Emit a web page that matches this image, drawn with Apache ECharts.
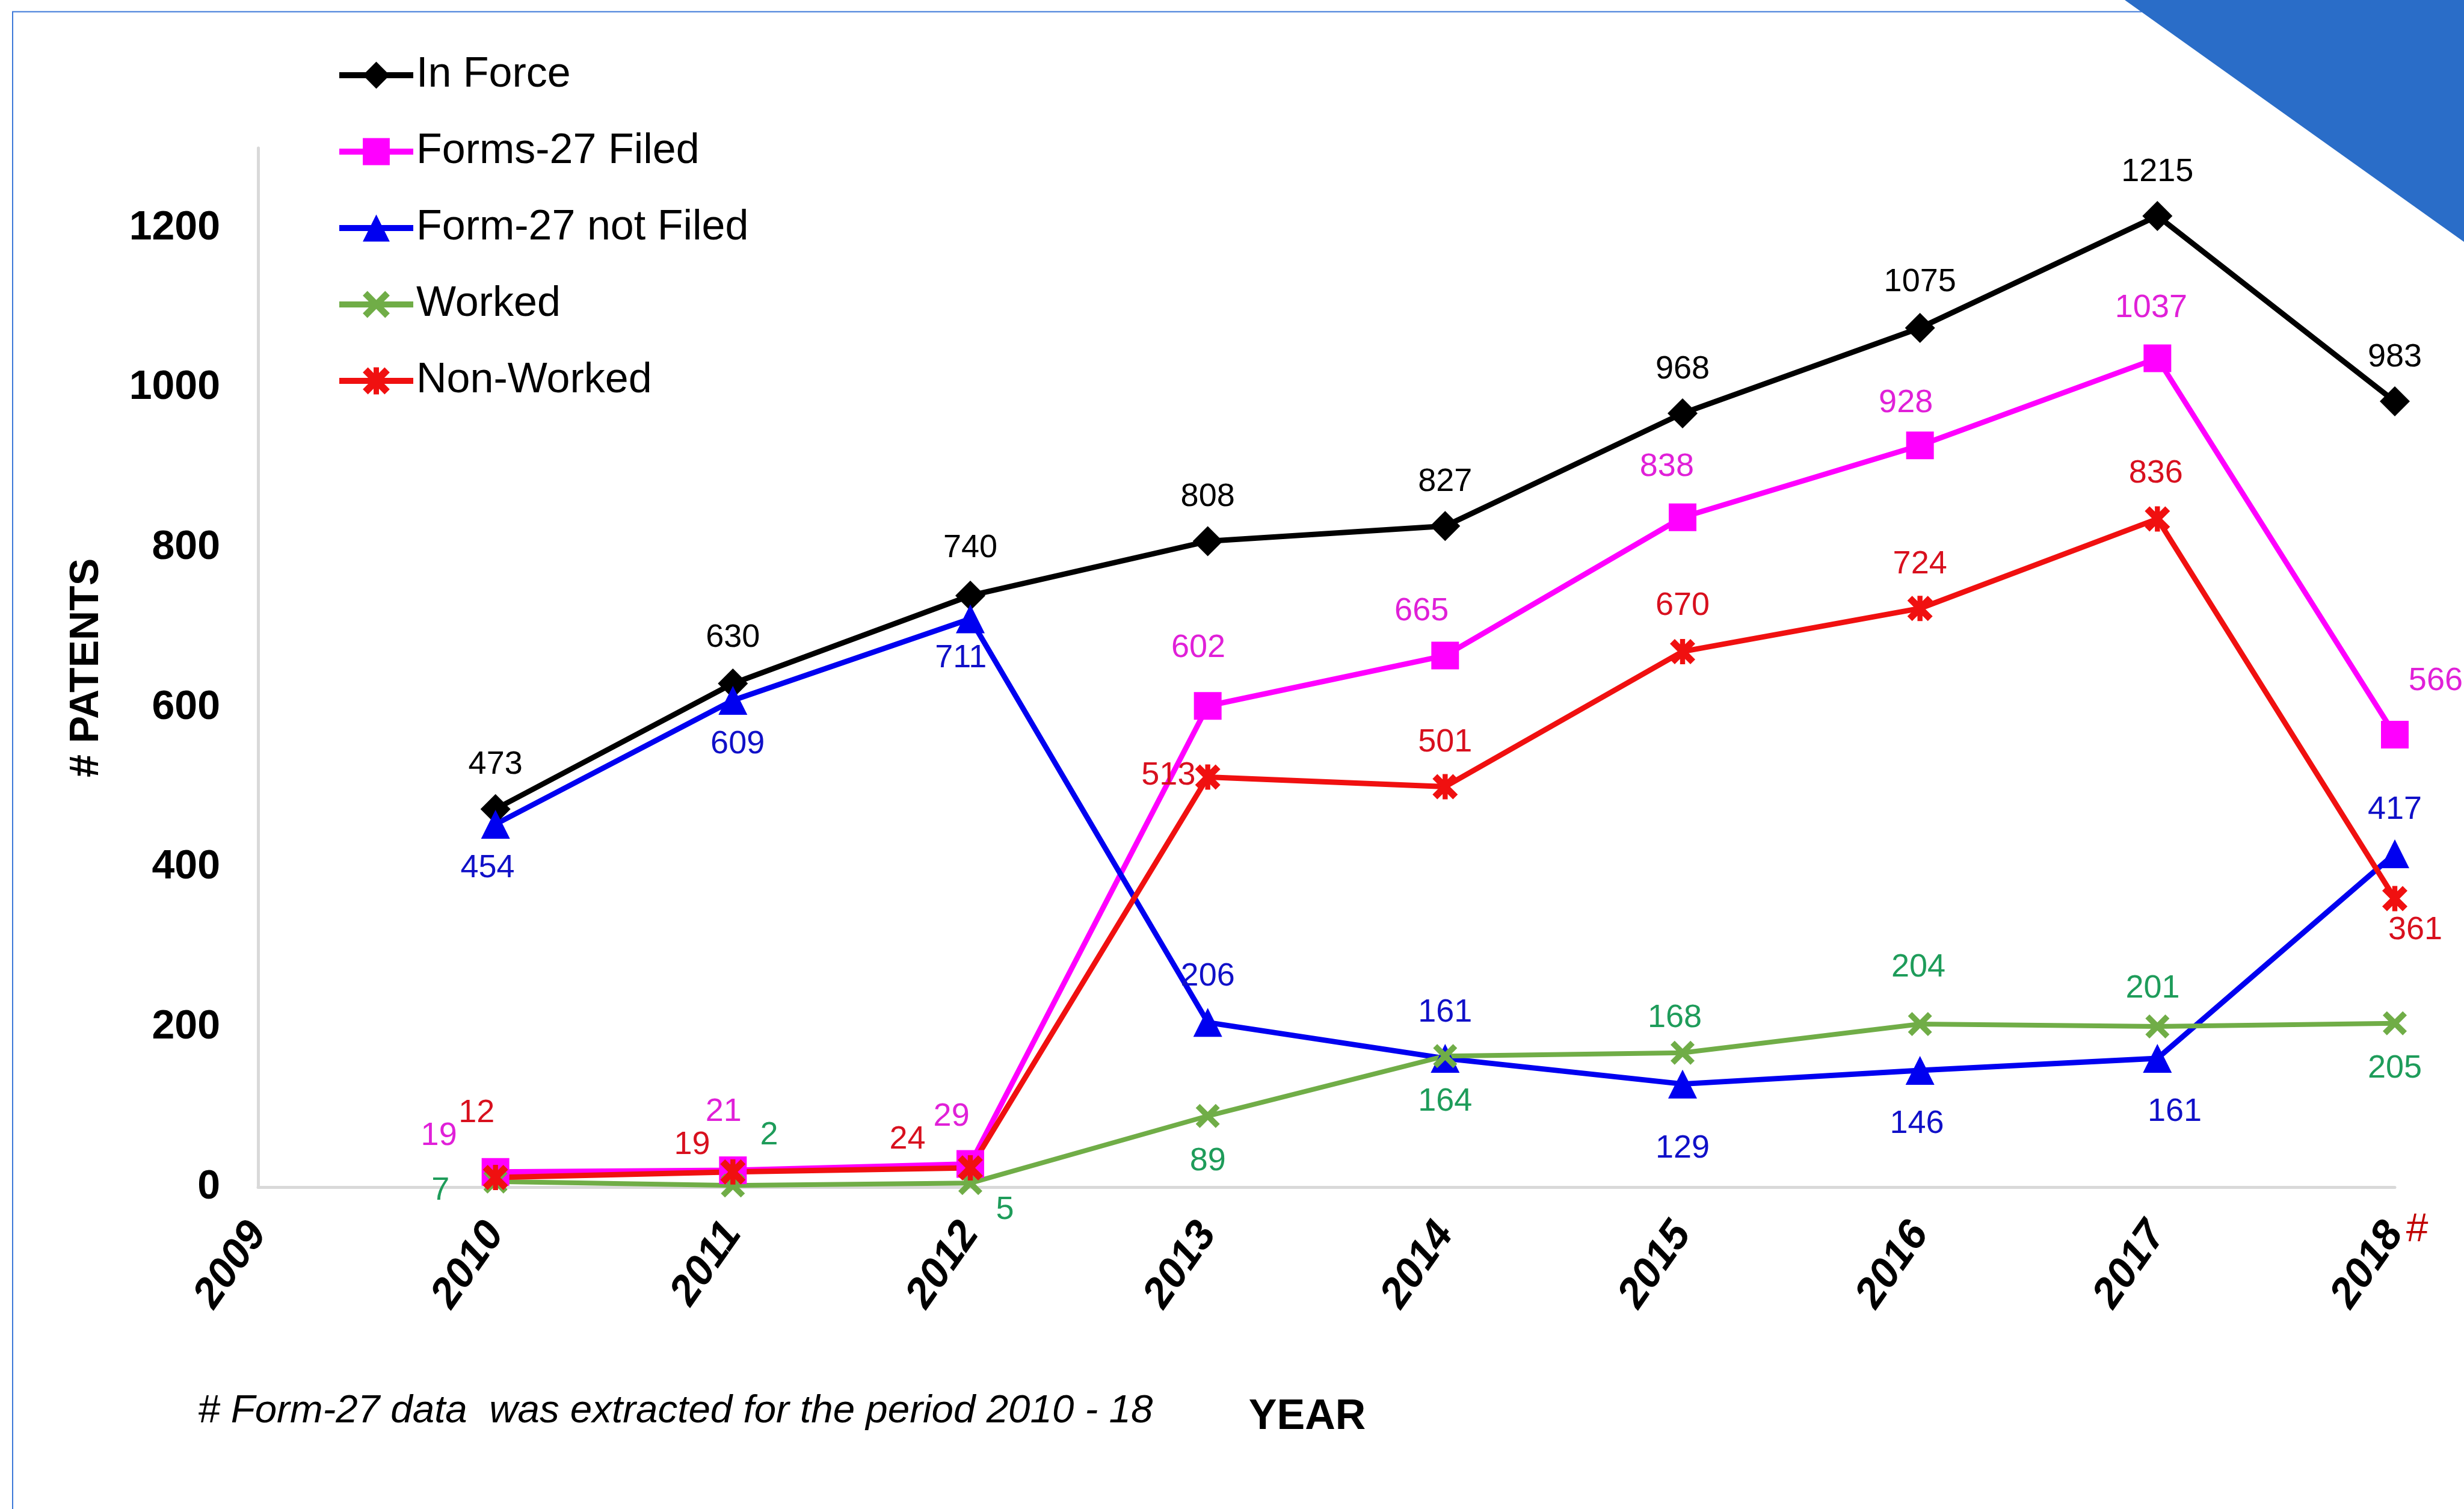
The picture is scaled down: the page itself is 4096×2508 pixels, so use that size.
<!DOCTYPE html>
<html><head><meta charset="utf-8">
<script src="https://cdn.jsdelivr.net/npm/echarts@6/dist/echarts.min.js"></script>
<style>html,body{margin:0;padding:0;background:#fff}#c{width:4096px;height:2508px}</style>
</head><body><div id="c"></div>
<script>
// ---- data ----
const years = ['2009','2010','2011','2012','2013','2014','2015','2016','2017','2018'];
const seriesNames = ['In Force','Forms-27 Filed','Form-27 not Filed','Worked','Non-Worked'];
const inForce    = [473, 630, 740, 808, 827, 968, 1075, 1215, 983];   // 2010..2018
const formsFiled = [19, 21, 29, 602, 665, 838, 928, 1037, 566];
const notFiled   = [454, 609, 711, 206, 161, 129, 146, 161, 417];
const worked     = [7, 2, 5, 89, 164, 168, 204, 201, 205];
const nonWorked  = [12, 19, 24, 513, 501, 670, 724, 836, 361];
const yMin = 0, yMax = 1300, yInterval = 200;

// ---- label placement (styling, in reference-preview px) ----
const S = 2.612;
const offInForce = [[0,-28],[0,-29],[0,-30],[0,-28],[0,-28],[0,-28],[0,-29],[0,-28],[0,-28]];
const offFiled   = [[-36,-23],[-6,-37],[-12,-30],[-6,-37],[-15,-28],[-10,-32],[-9,-27],[-4,-32],[26,-34]];
const offNot     = [[-5,28],[3,28],[-6,25],[0,-29],[0,-29],[0,41],[-2,34],[11,34],[0,-28]];
const offWorked  = [[-35,6],[23,-32],[22,17],[0,29],[0,29],[-5,-22],[-1,-36],[-3,-24],[0,29]];
const offNon     = [[-12,-41],[-26,-17],[-40,-18],[-25,-1],[0,-28],[0,-29],[0,-28],[-1,-29],[13,20]];

const FONT = '"Liberation Sans", Arial, sans-serif';
const X_PATH = 'path://M0,1.7L1.7,0L5,3.3L8.3,0L10,1.7L6.7,5L10,8.3L8.3,10L5,6.7L1.7,10L0,8.3L3.3,5Z';
const STAR_PATH = 'path://M0,1.9L1.9,0L5,3.1L8.1,0L10,1.9L6.9,5L10,8.1L8.1,10L5,6.9L1.9,10L0,8.1L3.1,5Z M4,0L6,0L6,10L4,10Z';

function mk(name, vals, lineColor, labelColor, symbol, size, width, offs) {
  const data = ['-'].concat(vals.map((v, i) => ({
    value: v,
    label: { offset: [offs[i][0] * S, offs[i][1] * S] }
  })));
  return {
    name, type: 'line', data,
    symbol, symbolSize: size, showAllSymbol: true,
    lineStyle: { color: lineColor, width },
    itemStyle: { color: lineColor },
    label: {
      show: true, position: 'inside', color: labelColor, fontSize: 54,
      fontFamily: FONT, fontWeight: 'normal', textBorderWidth: 0, formatter: '{c}'
    },
    emphasis: { disabled: true }
  };
}

const chart = echarts.init(document.getElementById('c'));
chart.setOption({
  animation: false,
  backgroundColor: '#ffffff',
  grid: { left: 429, right: 115, top: 246, bottom: 535, containLabel: false },
  legend: {
    data: seriesNames, orient: 'vertical', left: 554, top: 84,
    itemWidth: 123, itemHeight: 56, itemGap: 55,
    lineStyle: { width: 10 },
    textStyle: { fontSize: 70, color: '#000', fontFamily: FONT, lineHeight: 72 },
    selectedMode: false
  },
  xAxis: {
    type: 'category', data: years, boundaryGap: false,
    axisLine: { show: true, lineStyle: { color: '#D9D9D9', width: 5 } },
    axisTick: { show: false },
    splitLine: { show: false },
    axisLabel: {
      rotate: 55, margin: 66, fontSize: 70, fontWeight: 'bold', fontStyle: 'italic',
      color: '#000', fontFamily: FONT, interval: 0
    }
  },
  yAxis: {
    type: 'value', min: yMin, max: yMax, interval: yInterval,
    axisLine: { show: true, lineStyle: { color: '#D9D9D9', width: 5 } },
    axisTick: { show: false },
    splitLine: { show: false },
    axisLabel: {
      margin: 63, fontSize: 68, fontWeight: 'bold', color: '#000', fontFamily: FONT,
      showMaxLabel: false, formatter: v => String(v)
    }
  },
  series: [
    mk('In Force', inForce, '#000000', '#000000', 'diamond', 50, 9, offInForce),
    mk('Forms-27 Filed', formsFiled, '#FF00FF', '#E020D8', 'rect', 46, 9, offFiled),
    mk('Form-27 not Filed', notFiled, '#0000F0', '#1010C8', 'triangle', 48, 9, offNot),
    mk('Worked', worked, '#70AD47', '#1E9C5A', X_PATH, 40, 8, offWorked),
    mk('Non-Worked', nonWorked, '#F01010', '#D8101E', STAR_PATH, 42, 9, offNon)
  ],
  graphic: [
    { type: 'polyline', silent: true, shape: { points: [[21, 2508], [21, 19.5], [3560, 19.5]] },
      style: { stroke: '#3C78D8', lineWidth: 2, fill: null } },
    { type: 'polygon', silent: true, shape: { points: [[3532, 0], [4096, 0], [4096, 402]] },
      style: { fill: '#2A6DC8' } },
    { type: 'text', silent: true, x: 144, y: 1110, rotation: Math.PI / 2,
      style: { text: '# PATENTS', fontSize: 68, fontWeight: 'bold', fontFamily: FONT,
               fill: '#000', align: 'center', verticalAlign: 'middle' } },
    { type: 'text', silent: true, x: 2173, y: 2356,
      style: { text: 'YEAR', fontSize: 70, fontWeight: 'bold', fontFamily: FONT,
               fill: '#000', align: 'center', verticalAlign: 'middle' } },
    { type: 'text', silent: true, x: 329, y: 2346,
      style: { text: '# Form-27 data  was extracted for the period 2010 - 18', fontSize: 65.5,
               fontStyle: 'italic', fontFamily: FONT, fill: '#000', align: 'left', verticalAlign: 'middle' } },
    { type: 'text', silent: true, x: 4018, y: 2045,
      style: { text: '#', fontSize: 66, fontFamily: FONT, fill: '#C00000',
               align: 'center', verticalAlign: 'middle' } }
  ]
});
</script></body></html>
